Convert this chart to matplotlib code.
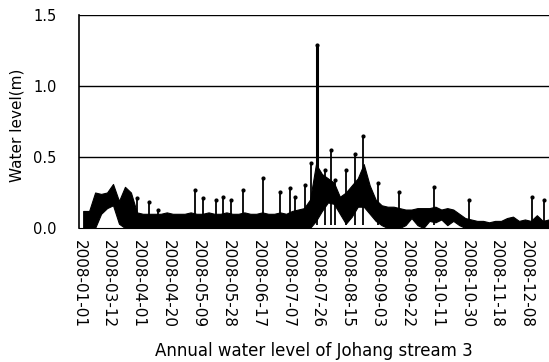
import matplotlib
matplotlib.use('Agg')
import matplotlib.pyplot as plt
import numpy as np

# Dates des ticks (axe par catégories, pas régulier)
tick_labels = ['2008-01-01', '2008-03-12', '2008-04-01', '2008-04-20', '2008-05-09',
               '2008-05-28', '2008-06-17', '2008-07-07', '2008-07-26', '2008-08-15',
               '2008-09-03', '2008-09-22', '2008-10-11', '2008-10-30', '2008-11-18',
               '2008-12-08']

# Enveloppe de la bande (position en intervalles de ticks, pas de 0.2)
band_pos = np.arange(79) * 0.2 + 0.14
band_high = [0.12, 0.12, 0.25, 0.24, 0.25, 0.31, 0.19, 0.29, 0.25, 0.11,
             0.10, 0.10, 0.10, 0.10, 0.11, 0.10, 0.10, 0.10, 0.11, 0.10,
             0.10, 0.11, 0.10, 0.10, 0.11, 0.10, 0.10, 0.11, 0.10, 0.10,
             0.11, 0.10, 0.10, 0.11, 0.10, 0.12, 0.13, 0.14, 0.20, 0.45,
             0.38, 0.35, 0.32, 0.22, 0.25, 0.30, 0.35, 0.45, 0.30, 0.20,
             0.16, 0.15, 0.15, 0.14, 0.13, 0.13, 0.14, 0.14, 0.14, 0.15,
             0.13, 0.14, 0.13, 0.10, 0.07, 0.06, 0.05, 0.05, 0.04, 0.05,
             0.05, 0.07, 0.08, 0.05, 0.06, 0.05, 0.09, 0.05, 0.06]
band_low = [0.0, 0.0, 0.0, 0.10, 0.14, 0.16, 0.03, 0.0, 0.0, 0.0,
            0.0, 0.0, 0.0, 0.0, 0.0, 0.0, 0.0, 0.0, 0.0, 0.0,
            0.0, 0.0, 0.0, 0.0, 0.0, 0.0, 0.0, 0.0, 0.0, 0.0,
            0.0, 0.0, 0.0, 0.0, 0.0, 0.0, 0.0, 0.0, 0.0, 0.05,
            0.12, 0.18, 0.17, 0.10, 0.03, 0.08, 0.15, 0.15, 0.10, 0.05,
            0.02, 0.0, 0.0, 0.0, 0.02, 0.07, 0.02, 0.0, 0.05, 0.04,
            0.06, 0.02, 0.05, 0.02, 0.0, 0.0, 0.0, 0.0, 0.0, 0.0,
            0.0, 0.0, 0.0, 0.0, 0.0, 0.0, 0.0, 0.0, 0.0]

# Pics isolés
spike_pos = [1.96, 2.36, 2.66, 3.89, 4.15, 4.58, 4.82, 5.08, 5.48, 6.18,
             6.74, 7.08, 7.24, 7.57, 7.77, 7.97, 8.24, 8.44, 8.57, 8.94,
             9.24, 9.50, 10.03, 10.73, 11.89, 13.06, 15.18, 15.58]
spike_val = [0.21, 0.18, 0.13, 0.27, 0.21, 0.20, 0.22, 0.20, 0.27, 0.35,
             0.25, 0.28, 0.22, 0.30, 0.46, 1.29, 0.41, 0.55, 0.34, 0.41,
             0.52, 0.65, 0.32, 0.25, 0.29, 0.20, 0.22, 0.20]

fig = plt.figure(figsize=(5.49, 3.62), dpi=100)
ax = fig.add_axes([79/549, 1 - 228/362, 470/549, 213/362])

ax.fill_between(band_pos, band_low, band_high, color='black', lw=0.8, zorder=3)
ax.vlines(spike_pos, 0.02, spike_val, color='black', lw=1.3, zorder=3)
ax.plot(spike_pos, spike_val, 'o', color='black', ms=2, zorder=3)
# pic principal plus épais
ax.vlines(spike_pos[15], 0.3, spike_val[15], color='black', lw=2.2, zorder=3)

for yv in [0.5, 1.0, 1.5]:
    ax.axhline(yv, color='black', lw=1, zorder=1)

ax.set_xlim((79 - 75) / 30.1, (549 - 75) / 30.1)
ax.set_ylim(0, 1.5)
ax.set_yticks([0.0, 0.5, 1.0, 1.5])
ax.set_yticklabels(['0.0', '0.5', '1.0', '1.5'], fontsize=10.5)
ax.set_xticks(range(len(tick_labels)))
ax.set_xticklabels(tick_labels, rotation=-90, fontsize=11)
ax.tick_params(axis='both', length=0)
ax.tick_params(axis='y', pad=16)
ax.tick_params(axis='x', pad=9)

for s in ['top', 'right']:
    ax.spines[s].set_visible(False)
ax.spines['left'].set_linewidth(1.2)

ax.set_ylabel('Water level(m)', fontsize=11)
ax.yaxis.set_label_coords(-0.115, 0.484)
ax.set_xlabel('Annual water level of Johang stream 3', fontsize=12)
ax.xaxis.set_label_coords(0.5, -0.535)

fig.savefig('out.png', dpi=100)
